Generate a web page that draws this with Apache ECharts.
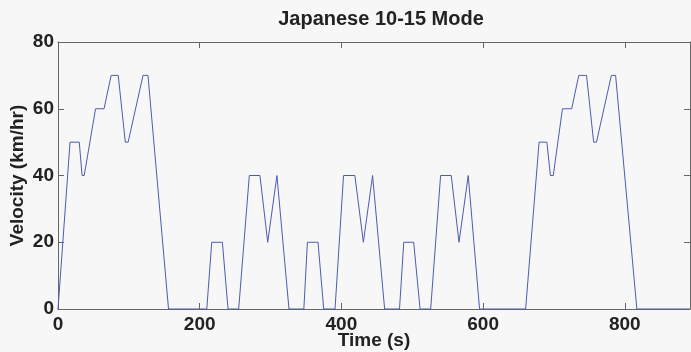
<!DOCTYPE html>
<html>
<head>
<meta charset="utf-8">
<title>Japanese 10-15 Mode</title>
<script src="https://cdn.jsdelivr.net/npm/echarts@6/dist/echarts.min.js"></script>
<style>
  html, body { margin: 0; padding: 0; background: #f7f7f8; }
  #chart { width: 691px; height: 352px; }
</style>
</head>
<body>
<div id="chart"></div>
<script>
// Japanese 10-15 mode driving cycle: breakpoints of the speed trace
const timeSec = [
  0, 17, 30, 34, 37, 53, 65, 75, 85, 95, 99, 120, 127, 156,
  210, 217, 232, 240,
  255, 270, 285, 296, 309, 326,
  347, 352, 367, 375,
  391, 403, 419, 431, 444, 461,
  482, 488, 502, 511,
  526, 540, 555, 566, 579, 595,
  660, 679, 690, 695, 699, 712, 725, 735, 746, 756, 760, 781, 787, 817,
  892
];
const velocityKmh = [
  0, 50, 50, 40, 40, 60, 60, 70, 70, 50, 50, 70, 70, 0,
  0, 20, 20, 0,
  0, 40, 40, 20, 40, 0,
  0, 20, 20, 0,
  0, 40, 40, 20, 40, 0,
  0, 20, 20, 0,
  0, 40, 40, 20, 40, 0,
  0, 50, 50, 40, 40, 60, 60, 70, 70, 50, 50, 70, 70, 0,
  0
];
const xTicks = [0, 200, 400, 600, 800];
const yTicks = [0, 20, 40, 60, 80];

const chart = echarts.init(document.getElementById('chart'), null, { renderer: 'canvas' });

const font = "'Liberation Sans', Arial, Helvetica, sans-serif";
const axisColor = '#666666';
const textColor = '#222222';

// boxed frame: every side drawn, ticks pointing inwards
function frame() {
  return {
    axisLine: { show: true, onZero: false, lineStyle: { color: axisColor, width: 1 } },
    axisTick: { show: true, inside: true, length: 6, lineStyle: { color: axisColor, width: 1 } },
    splitLine: { show: false }
  };
}

chart.setOption({
  backgroundColor: '#f7f7f8',
  animation: false,
  title: {
    text: 'Japanese 10-15 Mode',
    left: 381,
    top: 9,
    textAlign: 'center',
    padding: 0,
    textStyle: { fontFamily: font, fontSize: 20, fontWeight: 'bold', color: textColor }
  },
  grid: { left: 58, right: 1, top: 42, bottom: 43, containLabel: false, outerBoundsMode: 'none' },
  xAxis: [
    Object.assign({
      type: 'value',
      min: 0,
      max: 892,
      interval: 200,
      position: 'bottom',
      name: 'Time (s)',
      nameLocation: 'middle',
      nameGap: 22,
      nameMoveOverlap: false,
      nameTextStyle: { fontFamily: font, fontSize: 19, fontWeight: 'bold', color: textColor },
      axisLabel: {
        show: true, margin: 6, showMaxLabel: false,
        fontFamily: font, fontSize: 19, fontWeight: 'bold', color: textColor,
        formatter: v => (xTicks.includes(v) ? String(v) : '')
      }
    }, frame()),
    Object.assign({
      type: 'value',
      min: 0,
      max: 892,
      interval: 200,
      position: 'top',
      axisLabel: { show: false }
    }, frame())
  ],
  yAxis: [
    Object.assign({
      type: 'value',
      min: 0,
      max: 80,
      interval: 20,
      position: 'left',
      name: 'Velocity (km/hr)',
      nameLocation: 'middle',
      nameGap: 31,
      nameMoveOverlap: false,
      nameTextStyle: { fontFamily: font, fontSize: 19, fontWeight: 'bold', color: textColor },
      axisLabel: {
        show: true, margin: 4,
        fontFamily: font, fontSize: 19, fontWeight: 'bold', color: textColor,
        formatter: v => (yTicks.includes(v) ? String(v) : '')
      }
    }, frame()),
    Object.assign({
      type: 'value',
      min: 0,
      max: 80,
      interval: 20,
      position: 'right',
      axisLabel: { show: false }
    }, frame())
  ],
  series: [{
    type: 'line',
    xAxisIndex: 0,
    yAxisIndex: 0,
    data: timeSec.map((t, i) => [t, velocityKmh[i]]),
    showSymbol: false,
    symbol: 'none',
    lineStyle: { color: '#4b5cab', width: 1 },
    z: 1
  }]
});
</script>
</body>
</html>
